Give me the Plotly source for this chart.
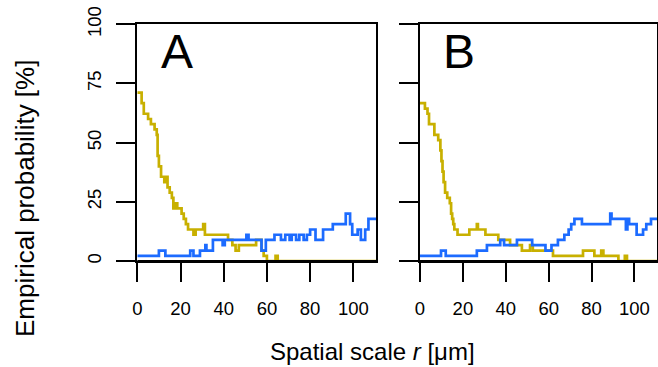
import plotly.graph_objects as go

# ---- data ----
# Panel A
rA_gold = [0, 2, 3, 5, 6.3, 8, 9, 9.4, 10, 11, 12.5, 13.5, 14, 15, 16, 16.7, 17.5, 18.5,
           20.5, 21.5, 22.5, 23.5, 26, 27, 30.5, 31.3, 42, 44, 45.5, 47, 55, 57.5, 58.5,
           60, 64, 65, 110.5]
pA_gold = [71.1, 66.7, 62.2, 60.0, 57.8, 55.6, 53.3, 44.4, 40.0, 35.6, 33.3, 35.6, 31.1,
           28.9, 26.7, 22.2, 24.4, 22.2, 20.0, 17.8, 15.6, 13.3, 11.1, 13.3, 15.6, 11.1,
           8.9, 6.7, 4.4, 6.7, 8.9, 4.4, 2.2, 0.0, 2.2, 0.0, 0.0]

rA_blue = [0, 10, 13, 24.5, 26, 29, 31.5, 32, 35, 39.5, 40.5, 50.5, 51.5, 57.5, 59.5,
           63.5, 66.5, 68.5, 70.5, 71.5, 73.5, 75, 77, 78.5, 80, 82.5, 86, 90.5, 96.5,
           98.5, 99.5, 102, 103.5, 105.5, 107, 110.5]
pA_blue = [2.2, 4.4, 2.2, 4.4, 2.2, 4.4, 6.7, 4.4, 8.9, 6.7, 8.9, 11.1, 8.9, 4.4, 8.9,
           11.1, 8.9, 11.1, 8.9, 11.1, 8.9, 11.1, 8.9, 11.1, 13.3, 8.9, 13.3, 15.6, 20.0,
           15.6, 11.1, 13.3, 8.9, 13.3, 17.8, 17.8]

# Panel B
rB_gold = [0, 2.3, 3.5, 4.2, 6.7, 8.5, 9.5, 10, 10.5, 11, 11.7, 12.7, 13.9, 14.5, 15,
           15.5, 16, 17.5, 23, 26.5, 27, 30.5, 36.5, 42, 47.5, 51.3, 52.6, 62, 76, 81.3,
           84.5, 85.5, 92.5, 95.5, 96.5, 110.5]
pB_gold = [66.7, 64.4, 62.2, 57.8, 53.3, 51.1, 46.7, 42.2, 37.8, 33.3, 28.9, 26.7, 24.4,
           20.0, 17.8, 15.6, 13.3, 11.1, 13.3, 15.6, 13.3, 11.1, 8.9, 6.7, 4.4, 6.7, 4.4,
           2.2, 4.4, 2.2, 4.4, 2.2, 0.0, 2.2, 0.0, 0.0]

rB_blue = [0, 9.8, 12, 26.5, 31.2, 37.4, 39.2, 45.2, 52.3, 58.5, 61.3, 64.3, 67.3, 69.3,
           70.5, 72, 75.5, 88.7, 89.3, 96, 96.7, 97.5, 101, 104, 105.5, 107.7, 110.5]
pB_blue = [2.2, 4.4, 2.2, 4.4, 6.7, 8.9, 6.7, 8.9, 6.7, 4.4, 6.7, 8.9, 11.1, 13.3, 15.6,
           17.8, 15.6, 20.0, 17.8, 13.3, 17.8, 15.6, 11.1, 13.3, 15.6, 17.8, 17.8]

x_ticks = [0, 20, 40, 60, 80, 100]
y_ticks = [0, 25, 50, 75, 100]
panel_labels = ["A", "B"]

GOLD = "#C8B000"
BLUE = "#1C6BFF"
FONT = "Liberation Sans, Arial, sans-serif"

W, H = 658, 367
fig = go.Figure()

for xs, ys, col, xa, ya in [
    (rA_gold, pA_gold, GOLD, "x", "y"),
    (rA_blue, pA_blue, BLUE, "x", "y"),
    (rB_gold, pB_gold, GOLD, "x2", "y2"),
    (rB_blue, pB_blue, BLUE, "x2", "y2"),
]:
    fig.add_trace(go.Scatter(x=xs, y=ys, mode="lines", line=dict(color=col, width=2.7, shape="hv"),
                             xaxis=xa, yaxis=ya, showlegend=False, hoverinfo="skip"))

y_dom = [1 - 261 / H, 1 - 24.3 / H]
xA_dom = [137.3 / W, 376 / W]
xB_dom = [420 / W, 657 / W]

axis_common = dict(showline=True, linecolor="black", linewidth=2, mirror=True,
                   ticks="outside", ticklen=19, tickwidth=2, tickcolor="black",
                   showgrid=False, zeroline=False, automargin=False,
                   tickfont=dict(family=FONT, size=18.5, color="black"))

fig.update_layout(
    width=W, height=H,
    margin=dict(l=0, r=0, t=0, b=0, pad=0, autoexpand=False),
    paper_bgcolor="white", plot_bgcolor="white",
    xaxis=dict(domain=xA_dom, range=[0, 110.5], tickvals=x_ticks, anchor="y",
               ticklabelstandoff=11, **axis_common),
    yaxis=dict(domain=y_dom, range=[0, 100], tickvals=y_ticks, anchor="x",
               tickangle=-90, ticklabelstandoff=8, **axis_common),
    xaxis2=dict(domain=xB_dom, range=[0, 110.5], tickvals=x_ticks, anchor="y2",
                ticklabelstandoff=11, **axis_common),
    yaxis2=dict(domain=y_dom, range=[0, 100], tickvals=y_ticks, anchor="x2",
                showticklabels=False, **axis_common),
)

# bottom axis line drawn over the curves, as in the reference
for xr, yr in [("x domain", "y"), ("x2 domain", "y2")]:
    fig.add_shape(type="line", xref=xr, yref=yr, x0=0, x1=1, y0=0, y1=0,
                  line=dict(color="black", width=2.2), layer="above")

# panel letters
for lab, xref, yref in [(panel_labels[0], "x domain", "y domain"), (panel_labels[1], "x2 domain", "y2 domain")]:
    fig.add_annotation(text=lab, xref=xref, yref=yref, x=0.09, y=0.885,
                       xanchor="left", yanchor="middle", showarrow=False,
                       font=dict(family=FONT, size=48, color="black"))

# axis titles
fig.add_annotation(text="Spatial scale <i>r</i> [μm]", xref="paper", yref="paper",
                   x=372.5 / W, y=1 - 351 / H, xanchor="center", yanchor="middle",
                   showarrow=False, font=dict(family=FONT, size=24, color="black"))
fig.add_annotation(text="Empirical probability [%]", xref="paper", yref="paper",
                   x=25 / W, y=1 - 199 / H, xanchor="center", yanchor="middle",
                   textangle=-90, showarrow=False, font=dict(family=FONT, size=26, color="black"))

fig.write_html("out.html")
